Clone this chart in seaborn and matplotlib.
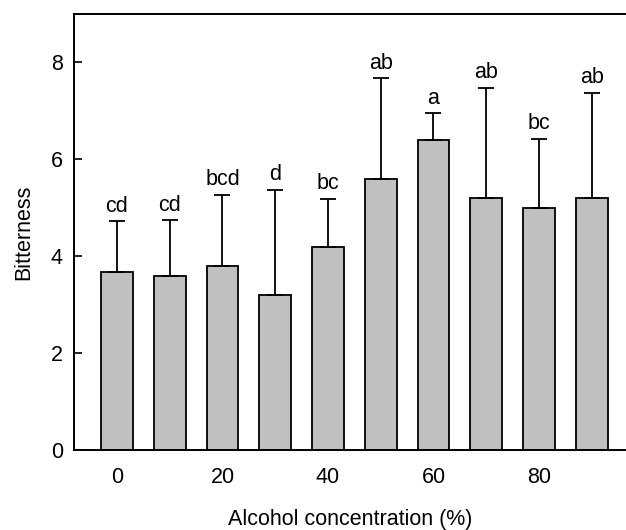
import matplotlib
matplotlib.use("Agg")
import matplotlib.pyplot as plt
import numpy as np
import pandas as pd
import seaborn as sns

# alcohol concentration (%) and bitterness score
concentration = [0, 10, 20, 30, 40, 50, 60, 70, 80, 90]
bitterness = [3.67, 3.60, 3.79, 3.20, 4.19, 5.59, 6.40, 5.20, 5.00, 5.20]
bitterness_sd = [1.05, 1.14, 1.48, 2.17, 1.00, 2.08, 0.55, 2.28, 1.42, 2.17]
letters = ["cd", "cd", "bcd", "d", "bc", "ab", "a", "ab", "bc", "ab"]

sns.set_style("ticks", {"text.color": "black", "axes.labelcolor": "black",
                        "xtick.color": "black", "ytick.color": "black",
                        "axes.edgecolor": "black"})
plt.rcParams["font.family"] = ["Liberation Sans", "DejaVu Sans"]
fs = 15.5

df = pd.DataFrame({"conc": concentration, "bitter": bitterness})

fig = plt.figure(figsize=(6.26, 5.30), dpi=100)
ax = fig.add_axes([0.1182, 0.1509, 0.8818, 0.8227])

sns.barplot(data=df, x="conc", y="bitter", native_scale=True, width=0.6,
            color="#c0c0c0", edgecolor="black", linewidth=1.3,
            saturation=1, errorbar=None, ax=ax)

ax.errorbar(concentration, bitterness,
            yerr=[np.zeros(len(bitterness_sd)), bitterness_sd],
            fmt="none", ecolor="black", elinewidth=1.3, capsize=5.5,
            capthick=1.3, zorder=3)

for x, m, s, lab in zip(concentration, bitterness, bitterness_sd, letters):
    ax.text(x, m + s + 0.2, lab, ha="center", va="baseline", fontsize=fs,
            color="black")

ax.set_xlim(-8.15, 96.5)
ax.set_ylim(0, 9)
ax.set_xticks([0, 20, 40, 60, 80])
ax.set_yticks([0, 2, 4, 6, 8])
ax.tick_params(axis="y", direction="in", length=6, width=1.2, pad=8,
               labelsize=fs)
ax.tick_params(axis="x", length=0, pad=12, labelsize=fs)
ax.spines["right"].set_visible(False)
for side in ["left", "bottom", "top"]:
    ax.spines[side].set_linewidth(1.4)

ax.set_xlabel("Alcohol concentration (%)", fontsize=fs, labelpad=15)
ax.set_ylabel("Bitterness", fontsize=fs, labelpad=12)

fig.savefig("out.png", dpi=100)
